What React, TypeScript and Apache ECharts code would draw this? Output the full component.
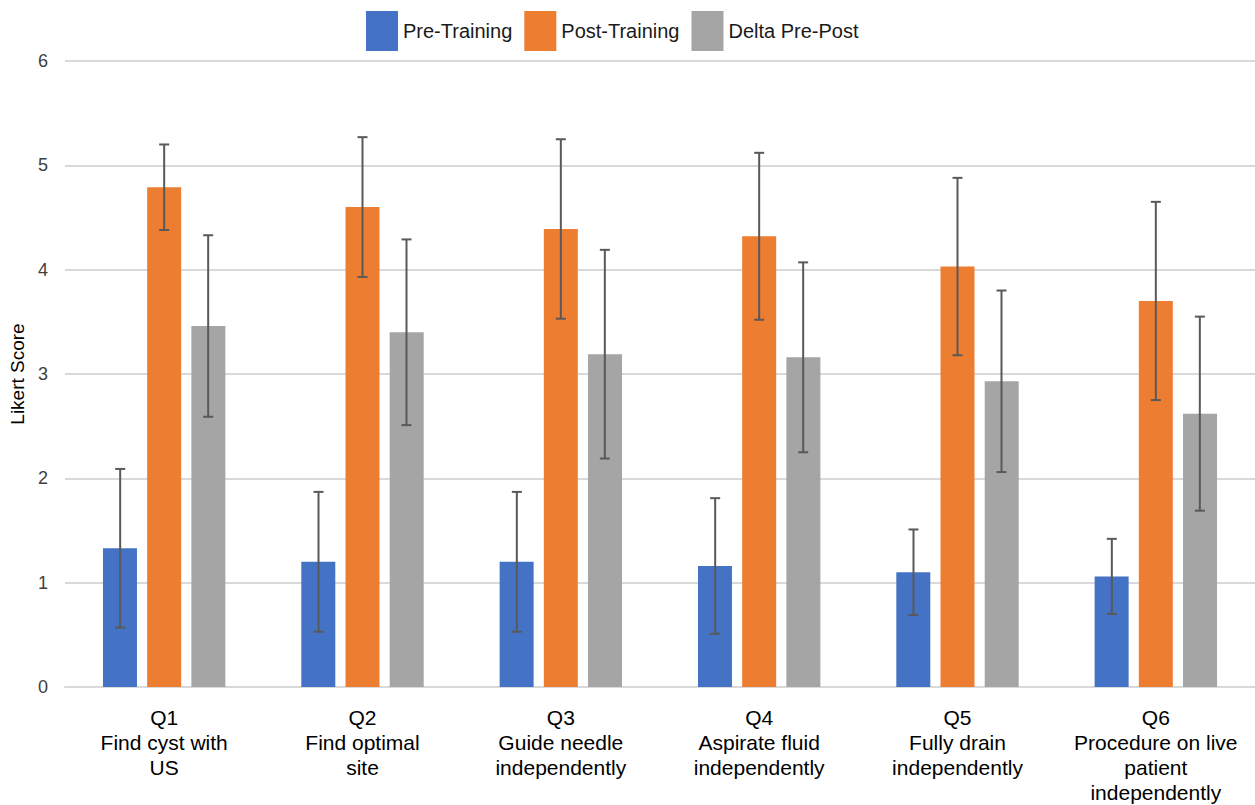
import React, { useEffect, useRef } from "react";
import * as echarts from "echarts";

const categories = [
  "Q1\nFind cyst with\nUS",
  "Q2\nFind optimal\nsite",
  "Q3\nGuide needle\nindependently",
  "Q4\nAspirate fluid\nindependently",
  "Q5\nFully drain\nindependently",
  "Q6\nProcedure on live\npatient\nindependently",
];
const seriesNames = ["Pre-Training", "Post-Training", "Delta Pre-Post"];
const preTraining = [1.33, 1.2, 1.2, 1.16, 1.1, 1.06];
const preTrainingErr = [0.76, 0.67, 0.67, 0.65, 0.41, 0.36];
const postTraining = [4.79, 4.6, 4.39, 4.32, 4.03, 3.7];
const postTrainingErr = [0.41, 0.67, 0.86, 0.8, 0.85, 0.95];
const deltaPrePost = [3.46, 3.4, 3.19, 3.16, 2.93, 2.62];
const deltaPrePostErr = [0.87, 0.89, 1.0, 0.91, 0.87, 0.93];
const yTicks = [0, 1, 2, 3, 4, 5, 6];

const colors = ["#4472C4", "#ED7D31", "#A5A5A5"];
const FONT = "'Liberation Sans', Arial, sans-serif";
const BAR_W = 34;
const BAR_STEP = 44;

export default function App() {
  const ref = useRef<HTMLDivElement>(null);
  useEffect(() => {
    document.body.style.margin = "0";
    const chart = echarts.init(ref.current!, null, { renderer: "svg" });
    const values = [preTraining, postTraining, deltaPrePost];
    const errs = [preTrainingErr, postTrainingErr, deltaPrePostErr];

    const barSeries = values.map((vals, i) => ({
      name: seriesNames[i],
      type: "bar",
      data: vals,
      barWidth: BAR_W,
      barGap: "30%",
      itemStyle: { color: colors[i] },
      z: 2,
    }));

    const errSeries = values.map((vals, i) => ({
      name: seriesNames[i] + " error",
      type: "custom",
      z: 5,
      silent: true,
      data: vals.map((v, k) => [k, v, errs[i][k]]),
      renderItem: (params: any, api: any) => {
        const k = api.value(0);
        const v = api.value(1);
        const e = api.value(2);
        const top = api.coord([k, v + e]);
        const bot = api.coord([k, v - e]);
        const x = top[0] + (i - 1) * BAR_STEP;
        const cap = 5;
        const style = { stroke: "#595959", lineWidth: 2 };
        return {
          type: "group",
          children: [
            { type: "line", shape: { x1: x, y1: top[1], x2: x, y2: bot[1] }, style },
            { type: "line", shape: { x1: x - cap, y1: top[1], x2: x + cap, y2: top[1] }, style },
            { type: "line", shape: { x1: x - cap, y1: bot[1], x2: x + cap, y2: bot[1] }, style },
          ],
        };
      },
    }));

    chart.setOption({
      animation: false,
      textStyle: { fontFamily: FONT },
      legend: {
        data: seriesNames,
        left: 361,
        top: 6,
        itemWidth: 32,
        itemHeight: 40,
        itemGap: 12,
        icon: "rect",
        textStyle: { fontSize: 20, color: "#1a1a1a", fontFamily: FONT },
      },
      grid: { left: 65, right: 0, top: 61, bottom: 117, containLabel: false },
      xAxis: {
        type: "category",
        data: categories,
        axisLine: { show: true, lineStyle: { color: "#d9d9d9", width: 2 } },
        axisTick: { show: false },
        axisLabel: {
          interval: 0,
          fontSize: 21,
          lineHeight: 25,
          color: "#000",
          margin: 18,
          fontFamily: FONT,
        },
      },
      yAxis: {
        type: "value",
        min: yTicks[0],
        max: yTicks[yTicks.length - 1],
        interval: 1,
        name: "Likert Score",
        nameLocation: "middle",
        nameGap: 38,
        nameTextStyle: { fontSize: 19, color: "#000", fontFamily: FONT },
        axisLine: { show: false },
        axisTick: { show: false },
        axisLabel: { fontSize: 18, color: "#404040", margin: 17, fontFamily: FONT },
        splitLine: { lineStyle: { color: "#d9d9d9", width: 2 } },
      },
      series: [...barSeries, ...errSeries],
    });
    return () => chart.dispose();
  }, []);
  return <div ref={ref} style={{ width: 1255, height: 805 }} />;
}
